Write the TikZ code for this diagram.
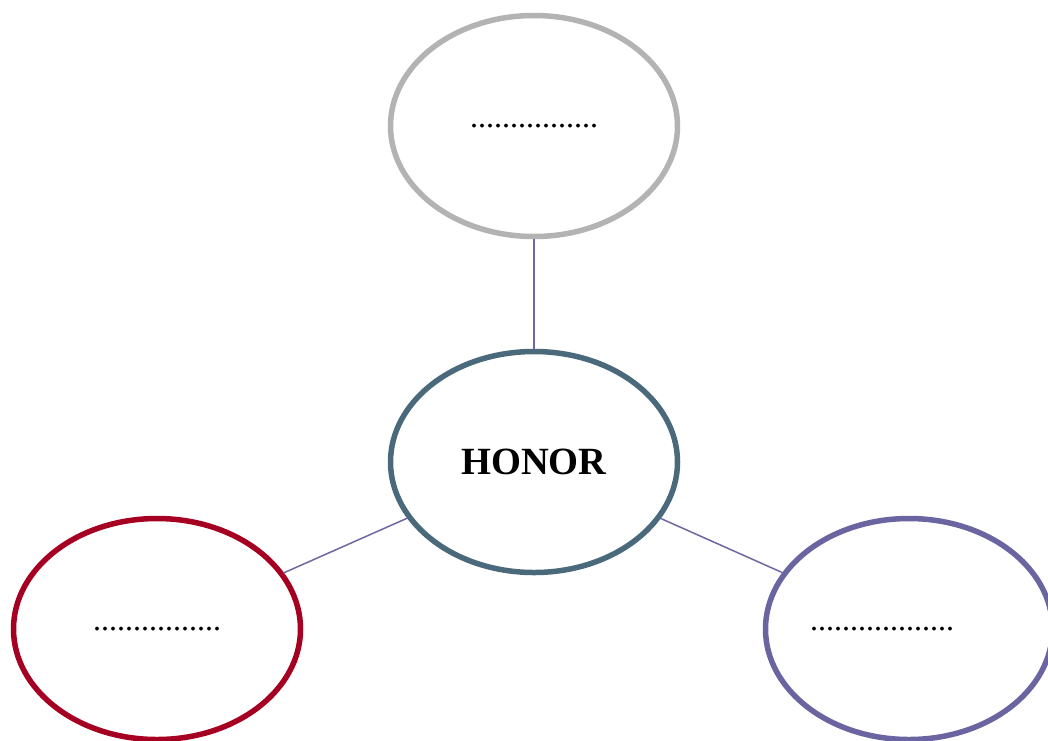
\documentclass[tikz,border=0pt]{standalone}
\usepackage{fontspec}
\setmainfont{Liberation Serif}
\usetikzlibrary{shapes.geometric}

\definecolor{topgray}{HTML}{B3B3B3}
\definecolor{midblue}{HTML}{4A6A7C}
\definecolor{leftred}{HTML}{A50021}
\definecolor{rightpurple}{HTML}{6A64A0}
\definecolor{linkpurple}{HTML}{6E67A2}

\tikzset{
  bubble/.style={ellipse, draw, line width=5.5pt, inner sep=0pt,
    minimum width=287pt, minimum height=221pt},
  link/.style={draw=linkpurple, line width=1.5pt}
}

\begin{document}
\begin{tikzpicture}[x=1pt,y=-1pt]
  \useasboundingbox (0,0) rectangle (1048,740);

  \node[name=top, bubble, draw=topgray] at (534,126)
    {\fontsize{32}{32}\selectfont ................};
  \node[name=honor, bubble, draw=midblue] at (534,462)
    {\fontsize{38.5}{38.5}\selectfont\bfseries HONOR};
  \node[name=left, bubble, draw=leftred] at (157,629)
    {\fontsize{32}{32}\selectfont ................};
  \node[name=right, bubble, draw=rightpurple] at (909,629)
    {\fontsize{32}{32}\selectfont\hspace*{-54pt}..................};

  \draw[link] (top) -- (honor);
  \draw[link] (honor) -- (left);
  \draw[link] (honor) -- (right);

\end{tikzpicture}
\end{document}
